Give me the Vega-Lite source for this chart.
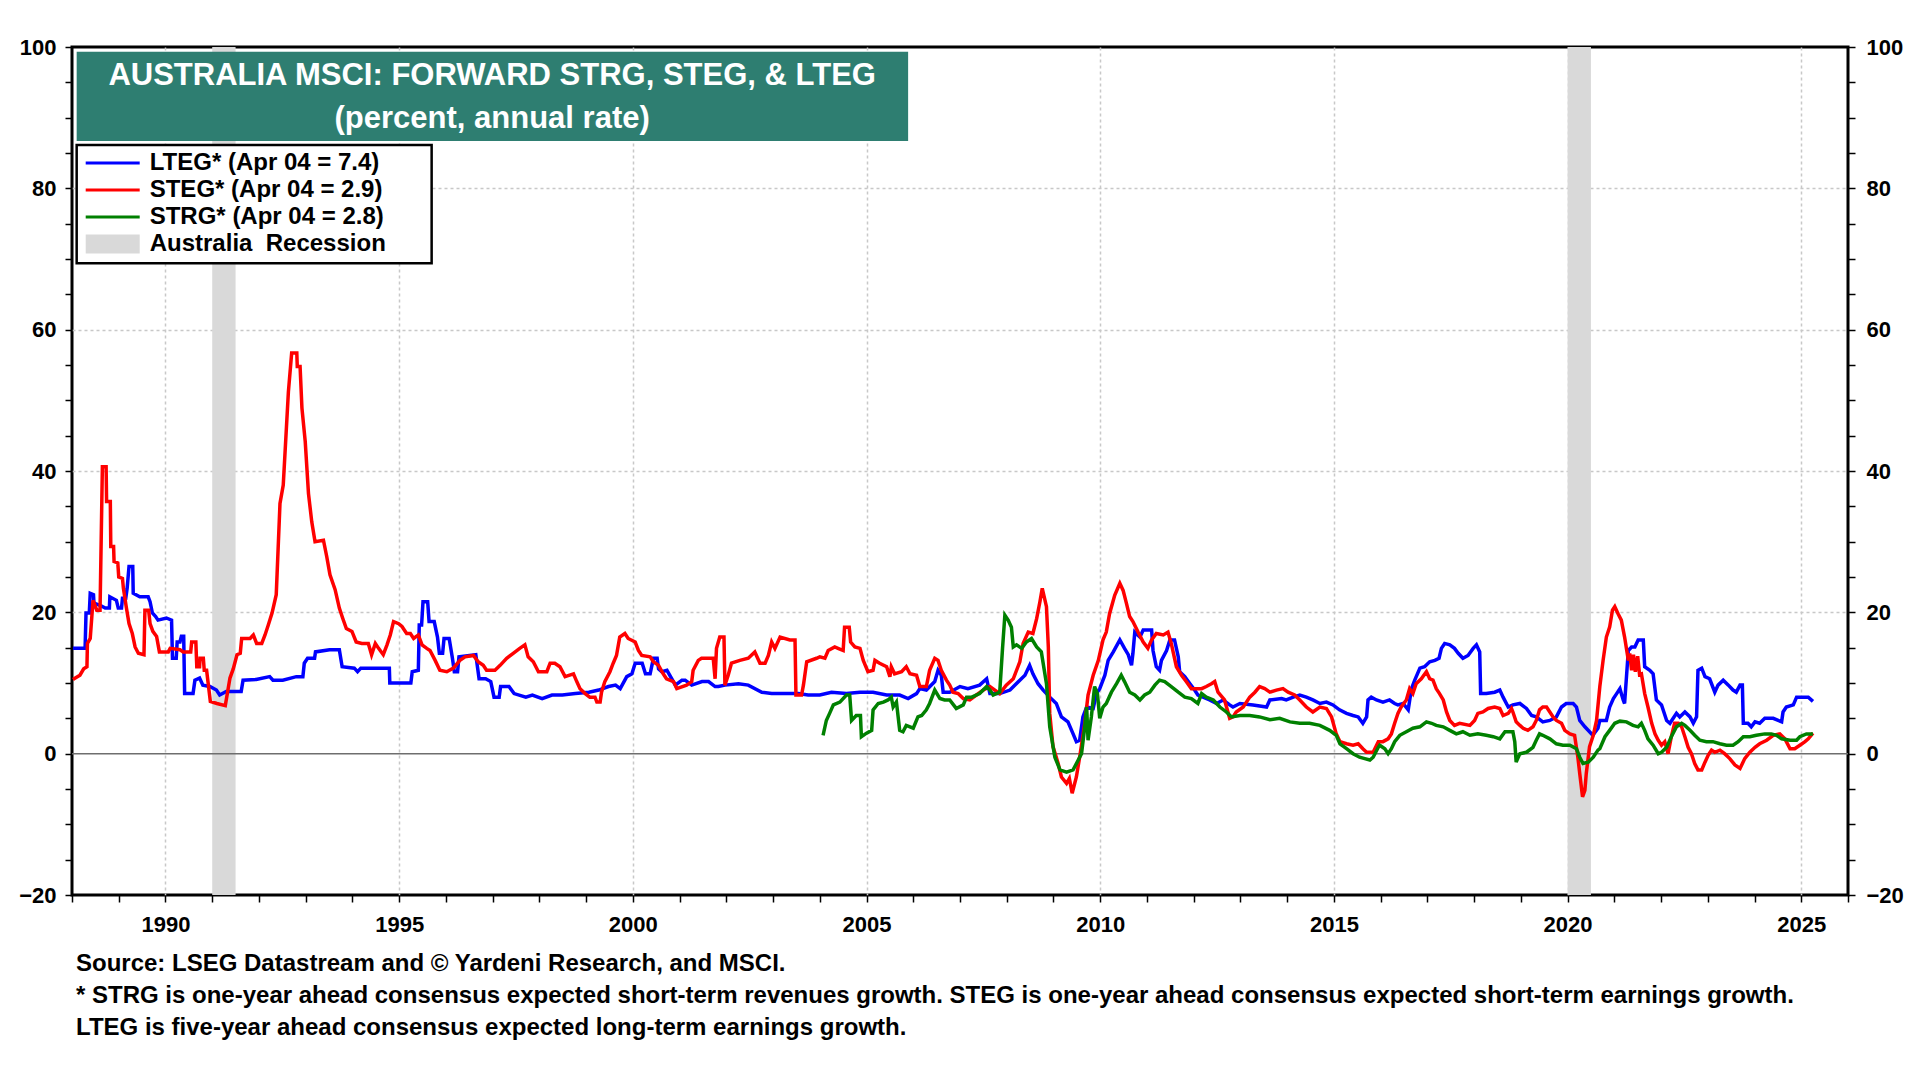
{
  "$schema": "https://vega.github.io/schema/vega-lite/v6.json",
  "width": 1776,
  "height": 848,
  "autosize": {"type": "none"},
  "padding": {"left": 72, "top": 47, "right": 72, "bottom": 185},
  "background": "white",
  "title": {
    "text": ["Source: LSEG Datastream and © Yardeni Research, and MSCI.", "* STRG is one-year ahead consensus expected short-term revenues growth. STEG is one-year ahead consensus expected short-term earnings growth.", "LTEG is five-year ahead consensus expected long-term earnings growth."],
    "orient": "bottom", "anchor": "start", "frame": "group",
    "font": "Liberation Sans", "fontSize": 24, "fontWeight": "bold", "color": "black",
    "lineHeight": 32, "offset": 17, "dx": 4
  },
  "config": {
    "view": {"stroke": "black", "strokeWidth": 3},
    "axis": {
      "labelFont": "Liberation Sans", "labelFontSize": 22, "labelFontWeight": "bold", "labelColor": "black",
      "tickColor": "black", "tickWidth": 1.5, "tickSize": 7, "domain": false, "title": null
    }
  },
  "resolve": {"axis": {"x": "independent", "y": "independent"}},
  "layer": [
    {
      "data": {"values": [{"a": 1991.0, "b": 1991.5}, {"a": 2020.0, "b": 2020.5}]},
      "mark": {"type": "rect", "color": "#D9D9D9"},
      "encoding": {
        "x": {"field": "a", "type": "quantitative", "scale": {"domain": [1988, 2026], "nice": false, "zero": false}, "axis": null},
        "x2": {"field": "b"}
      }
    },
    {
      "data": {"values": [{"v": 0}]},
      "mark": {"type": "rule", "color": "#6e6e6e", "strokeWidth": 1.5},
      "encoding": {
        "y": {"field": "v", "type": "quantitative", "scale": {"domain": [-20, 100], "nice": false, "zero": false},
          "axis": {"orient": "right", "values": [-20,-15,-10,-5,0,5,10,15,20,25,30,35,40,45,50,55,60,65,70,75,80,85,90,95,100],
            "labelExpr": "datum.value % 20 === 0 ? datum.label : ''", "labelPadding": 11, "grid": false}}
      }
    },
    {
      "data": {"name": "series"},
      "mark": {"type": "line", "strokeWidth": 3.5, "clip": true},
      "encoding": {
        "x": {"field": "t", "type": "quantitative",
          "axis": {"orient": "bottom", "values": [1988,1989,1990,1991,1992,1993,1994,1995,1996,1997,1998,1999,2000,2001,2002,2003,2004,2005,2006,2007,2008,2009,2010,2011,2012,2013,2014,2015,2016,2017,2018,2019,2020,2021,2022,2023,2024,2025,2026],
            "format": "d", "labelExpr": "datum.value % 5 === 0 ? datum.label : ''", "labelPadding": 12,
            "grid": true, "gridColor": "#c8c8c8", "gridDash": [3, 3], "gridWidth": 1.5,
            "gridOpacity": {"condition": {"test": "datum.value % 5 !== 0 || datum.value === 1988 || datum.value === 2026", "value": 0}, "value": 1}}},
        "y": {"field": "v", "type": "quantitative",
          "axis": {"orient": "left", "values": [-20,-15,-10,-5,0,5,10,15,20,25,30,35,40,45,50,55,60,65,70,75,80,85,90,95,100],
            "labelExpr": "datum.value % 20 === 0 ? datum.label : ''", "labelPadding": 9,
            "grid": true, "gridColor": "#c8c8c8", "gridDash": [3, 3], "gridWidth": 1.5,
            "gridOpacity": {"condition": {"test": "datum.value % 20 !== 0 || datum.value <= 0 || datum.value >= 100", "value": 0}, "value": 1}}},
        "color": {"field": "s", "type": "nominal",
          "scale": {"domain": ["L", "S", "R", "X"], "range": ["#0000FF", "#FF0000", "#008000", "#D9D9D9"]},
          "legend": {
            "orient": "none", "legendX": 4.7, "legendY": 98, "title": null,
            "labelExpr": "datum.value === 'L' ? 'LTEG* (Apr 04 = 7.4)' : datum.value === 'S' ? 'STEG* (Apr 04 = 2.9)' : datum.value === 'R' ? 'STRG* (Apr 04 = 2.8)' : 'Australia\u00a0 Recession'",
            "symbolType": "M-2.25,-0.125L2.25,-0.125L2.25,0.125L-2.25,0.125Z", "symbolSize": 576, "symbolStrokeWidth": 0,
            "symbolOffset": 18, "labelOffset": 25, "labelLimit": 500,
            "labelFont": "Liberation Sans", "labelFontSize": 24, "labelFontWeight": "bold", "labelColor": "black",
            "rowPadding": 3, "padding": 6,
            "encode": {
              "symbols": {"update": {
                "shape": {"signal": "datum.value === 'X' ? 'M-2.25,-0.79L2.25,-0.79L2.25,0.79L-2.25,0.79Z' : 'M-2.25,-0.125L2.25,-0.125L2.25,0.125L-2.25,0.125Z'"},
                "fill": {"scale": "color", "field": "value"},
                "fillOpacity": {"value": 1},
                "strokeWidth": {"value": 0}
              }}
            }
          }
        }
      }
    },
    {
      "data": {"values": [{"txt": "AUSTRALIA MSCI: FORWARD STRG, STEG, & LTEG\n(percent, annual rate)"}]},
      "layer": [
        {
          "mark": {"type": "rect", "color": "#2E7E71"},
          "encoding": {
            "x": {"datum": 1988.1, "type": "quantitative", "axis": null},
            "x2": {"datum": 2005.89},
            "y": {"datum": 99.33, "type": "quantitative", "axis": null},
            "y2": {"datum": 86.7}
          }
        },
        {
          "mark": {"type": "text", "color": "white", "font": "Liberation Sans", "fontSize": 31, "fontWeight": "bold", "lineBreak": "\n", "lineHeight": 42.3, "align": "center", "baseline": "middle"},
          "encoding": {
            "x": {"datum": 1996.99, "type": "quantitative", "axis": null},
            "y": {"datum": 95.85, "type": "quantitative", "axis": null},
            "text": {"field": "txt"}
          }
        },
        {
          "mark": {"type": "rect", "fill": "white", "stroke": "black", "strokeWidth": 2.5},
          "encoding": {
            "x": {"datum": 1988.1, "type": "quantitative", "axis": null},
            "x2": {"datum": 1995.695},
            "y": {"datum": 86.13, "type": "quantitative", "axis": null},
            "y2": {"datum": 69.39}
          }
        }
      ]
    }
  ],
  "datasets": {
    "series": [
      {"s":"L","t":1988.02,"v":14.9},{"s":"L","t":1988.28,"v":14.9},{"s":"L","t":1988.3,"v":19.9},{"s":"L","t":1988.37,"v":19.9},{"s":"L","t":1988.39,"v":22.7},{"s":"L","t":1988.46,"v":22.5},{"s":"L","t":1988.47,"v":21.3},{"s":"L","t":1988.6,"v":21.0},{"s":"L","t":1988.71,"v":20.6},{"s":"L","t":1988.8,"v":20.6},{"s":"L","t":1988.81,"v":22.2},{"s":"L","t":1988.95,"v":21.7},{"s":"L","t":1988.99,"v":20.6},{"s":"L","t":1989.06,"v":20.6},{"s":"L","t":1989.08,"v":22.0},{"s":"L","t":1989.15,"v":22.0},{"s":"L","t":1989.18,"v":23.4},{"s":"L","t":1989.22,"v":26.5},{"s":"L","t":1989.3,"v":26.5},{"s":"L","t":1989.31,"v":22.7},{"s":"L","t":1989.45,"v":22.2},{"s":"L","t":1989.63,"v":22.2},{"s":"L","t":1989.67,"v":21.5},{"s":"L","t":1989.72,"v":19.9},{"s":"L","t":1989.79,"v":19.4},{"s":"L","t":1989.84,"v":18.9},{"s":"L","t":1990.02,"v":19.2},{"s":"L","t":1990.13,"v":18.9},{"s":"L","t":1990.15,"v":13.5},{"s":"L","t":1990.23,"v":13.5},{"s":"L","t":1990.25,"v":15.8},{"s":"L","t":1990.31,"v":15.8},{"s":"L","t":1990.34,"v":16.6},{"s":"L","t":1990.39,"v":16.6},{"s":"L","t":1990.41,"v":8.5},{"s":"L","t":1990.59,"v":8.5},{"s":"L","t":1990.63,"v":10.4},{"s":"L","t":1990.73,"v":10.7},{"s":"L","t":1990.8,"v":9.7},{"s":"L","t":1990.95,"v":9.5},{"s":"L","t":1991.09,"v":9.0},{"s":"L","t":1991.16,"v":8.3},{"s":"L","t":1991.3,"v":8.8},{"s":"L","t":1991.62,"v":8.8},{"s":"L","t":1991.66,"v":10.4},{"s":"L","t":1991.94,"v":10.5},{"s":"L","t":1992.23,"v":10.9},{"s":"L","t":1992.3,"v":10.4},{"s":"L","t":1992.51,"v":10.4},{"s":"L","t":1992.8,"v":10.9},{"s":"L","t":1992.94,"v":10.9},{"s":"L","t":1992.97,"v":12.8},{"s":"L","t":1993.04,"v":13.5},{"s":"L","t":1993.19,"v":13.5},{"s":"L","t":1993.21,"v":14.4},{"s":"L","t":1993.51,"v":14.7},{"s":"L","t":1993.72,"v":14.7},{"s":"L","t":1993.78,"v":12.3},{"s":"L","t":1994.04,"v":12.1},{"s":"L","t":1994.11,"v":11.6},{"s":"L","t":1994.18,"v":12.1},{"s":"L","t":1994.79,"v":12.1},{"s":"L","t":1994.8,"v":10.0},{"s":"L","t":1995.25,"v":10.0},{"s":"L","t":1995.28,"v":11.6},{"s":"L","t":1995.41,"v":11.8},{"s":"L","t":1995.43,"v":18.2},{"s":"L","t":1995.48,"v":18.2},{"s":"L","t":1995.51,"v":21.5},{"s":"L","t":1995.61,"v":21.5},{"s":"L","t":1995.64,"v":18.7},{"s":"L","t":1995.75,"v":18.7},{"s":"L","t":1995.82,"v":16.5},{"s":"L","t":1995.86,"v":14.2},{"s":"L","t":1995.93,"v":14.2},{"s":"L","t":1995.96,"v":16.3},{"s":"L","t":1996.07,"v":16.3},{"s":"L","t":1996.14,"v":13.5},{"s":"L","t":1996.18,"v":11.6},{"s":"L","t":1996.25,"v":11.6},{"s":"L","t":1996.28,"v":13.7},{"s":"L","t":1996.64,"v":14.0},{"s":"L","t":1996.71,"v":10.6},{"s":"L","t":1996.85,"v":10.6},{"s":"L","t":1996.96,"v":10.2},{"s":"L","t":1997.03,"v":8.0},{"s":"L","t":1997.14,"v":8.0},{"s":"L","t":1997.17,"v":9.5},{"s":"L","t":1997.35,"v":9.5},{"s":"L","t":1997.46,"v":8.5},{"s":"L","t":1997.71,"v":8.0},{"s":"L","t":1997.85,"v":8.3},{"s":"L","t":1998.06,"v":7.8},{"s":"L","t":1998.27,"v":8.3},{"s":"L","t":1998.49,"v":8.3},{"s":"L","t":1998.77,"v":8.5},{"s":"L","t":1999.06,"v":8.7},{"s":"L","t":1999.27,"v":9.0},{"s":"L","t":1999.48,"v":9.5},{"s":"L","t":1999.63,"v":9.7},{"s":"L","t":1999.73,"v":9.2},{"s":"L","t":1999.87,"v":10.9},{"s":"L","t":1999.98,"v":11.3},{"s":"L","t":2000.05,"v":12.8},{"s":"L","t":2000.2,"v":12.8},{"s":"L","t":2000.27,"v":11.3},{"s":"L","t":2000.37,"v":11.3},{"s":"L","t":2000.44,"v":13.5},{"s":"L","t":2000.52,"v":13.5},{"s":"L","t":2000.55,"v":12.0},{"s":"L","t":2000.62,"v":11.6},{"s":"L","t":2000.73,"v":11.8},{"s":"L","t":2000.91,"v":9.7},{"s":"L","t":2001.05,"v":10.4},{"s":"L","t":2001.12,"v":10.4},{"s":"L","t":2001.26,"v":9.7},{"s":"L","t":2001.48,"v":10.2},{"s":"L","t":2001.62,"v":10.2},{"s":"L","t":2001.76,"v":9.5},{"s":"L","t":2001.83,"v":9.5},{"s":"L","t":2001.97,"v":9.7},{"s":"L","t":2002.26,"v":9.9},{"s":"L","t":2002.47,"v":9.7},{"s":"L","t":2002.76,"v":8.7},{"s":"L","t":2002.97,"v":8.5},{"s":"L","t":2003.54,"v":8.5},{"s":"L","t":2003.75,"v":8.3},{"s":"L","t":2004.0,"v":8.3},{"s":"L","t":2004.25,"v":8.7},{"s":"L","t":2004.57,"v":8.5},{"s":"L","t":2004.86,"v":8.7},{"s":"L","t":2005.14,"v":8.7},{"s":"L","t":2005.43,"v":8.3},{"s":"L","t":2005.71,"v":8.3},{"s":"L","t":2005.89,"v":7.8},{"s":"L","t":2006.07,"v":8.5},{"s":"L","t":2006.14,"v":9.2},{"s":"L","t":2006.28,"v":9.0},{"s":"L","t":2006.46,"v":10.2},{"s":"L","t":2006.53,"v":11.8},{"s":"L","t":2006.6,"v":11.1},{"s":"L","t":2006.64,"v":8.7},{"s":"L","t":2006.78,"v":8.7},{"s":"L","t":2007.0,"v":9.5},{"s":"L","t":2007.17,"v":9.2},{"s":"L","t":2007.42,"v":9.7},{"s":"L","t":2007.57,"v":10.6},{"s":"L","t":2007.64,"v":8.5},{"s":"L","t":2007.85,"v":8.5},{"s":"L","t":2008.07,"v":9.0},{"s":"L","t":2008.28,"v":10.4},{"s":"L","t":2008.39,"v":11.1},{"s":"L","t":2008.49,"v":12.5},{"s":"L","t":2008.56,"v":11.3},{"s":"L","t":2008.67,"v":9.9},{"s":"L","t":2008.78,"v":9.0},{"s":"L","t":2008.92,"v":8.0},{"s":"L","t":2009.06,"v":7.1},{"s":"L","t":2009.17,"v":5.2},{"s":"L","t":2009.31,"v":4.5},{"s":"L","t":2009.42,"v":2.8},{"s":"L","t":2009.49,"v":1.7},{"s":"L","t":2009.56,"v":1.9},{"s":"L","t":2009.63,"v":5.2},{"s":"L","t":2009.71,"v":6.6},{"s":"L","t":2009.85,"v":6.4},{"s":"L","t":2009.92,"v":8.5},{"s":"L","t":2009.99,"v":9.2},{"s":"L","t":2010.1,"v":11.1},{"s":"L","t":2010.17,"v":13.2},{"s":"L","t":2010.28,"v":14.4},{"s":"L","t":2010.42,"v":16.1},{"s":"L","t":2010.52,"v":14.9},{"s":"L","t":2010.6,"v":14.0},{"s":"L","t":2010.67,"v":12.5},{"s":"L","t":2010.7,"v":14.2},{"s":"L","t":2010.74,"v":17.2},{"s":"L","t":2010.85,"v":16.5},{"s":"L","t":2010.92,"v":17.5},{"s":"L","t":2011.1,"v":17.5},{"s":"L","t":2011.13,"v":14.6},{"s":"L","t":2011.2,"v":12.3},{"s":"L","t":2011.27,"v":11.8},{"s":"L","t":2011.31,"v":13.2},{"s":"L","t":2011.42,"v":14.6},{"s":"L","t":2011.49,"v":16.1},{"s":"L","t":2011.59,"v":16.1},{"s":"L","t":2011.67,"v":13.7},{"s":"L","t":2011.7,"v":11.6},{"s":"L","t":2011.81,"v":10.9},{"s":"L","t":2011.92,"v":9.9},{"s":"L","t":2012.02,"v":9.0},{"s":"L","t":2012.09,"v":8.3},{"s":"L","t":2012.2,"v":8.0},{"s":"L","t":2012.34,"v":7.6},{"s":"L","t":2012.49,"v":7.1},{"s":"L","t":2012.63,"v":7.6},{"s":"L","t":2012.77,"v":6.9},{"s":"L","t":2012.84,"v":6.6},{"s":"L","t":2012.99,"v":7.1},{"s":"L","t":2013.27,"v":6.9},{"s":"L","t":2013.56,"v":6.6},{"s":"L","t":2013.63,"v":7.6},{"s":"L","t":2013.88,"v":7.8},{"s":"L","t":2013.98,"v":7.6},{"s":"L","t":2014.13,"v":8.0},{"s":"L","t":2014.27,"v":8.3},{"s":"L","t":2014.41,"v":8.0},{"s":"L","t":2014.55,"v":7.6},{"s":"L","t":2014.7,"v":7.1},{"s":"L","t":2014.84,"v":7.3},{"s":"L","t":2014.98,"v":6.9},{"s":"L","t":2015.12,"v":6.2},{"s":"L","t":2015.27,"v":5.7},{"s":"L","t":2015.41,"v":5.4},{"s":"L","t":2015.52,"v":5.2},{"s":"L","t":2015.62,"v":4.3},{"s":"L","t":2015.7,"v":5.2},{"s":"L","t":2015.73,"v":7.6},{"s":"L","t":2015.8,"v":8.0},{"s":"L","t":2015.91,"v":7.6},{"s":"L","t":2016.05,"v":7.3},{"s":"L","t":2016.19,"v":7.6},{"s":"L","t":2016.3,"v":7.1},{"s":"L","t":2016.37,"v":6.9},{"s":"L","t":2016.48,"v":7.1},{"s":"L","t":2016.59,"v":6.2},{"s":"L","t":2016.66,"v":9.2},{"s":"L","t":2016.73,"v":10.4},{"s":"L","t":2016.84,"v":12.1},{"s":"L","t":2016.94,"v":12.3},{"s":"L","t":2017.05,"v":13.0},{"s":"L","t":2017.16,"v":13.2},{"s":"L","t":2017.25,"v":13.5},{"s":"L","t":2017.3,"v":14.9},{"s":"L","t":2017.37,"v":15.6},{"s":"L","t":2017.48,"v":15.4},{"s":"L","t":2017.58,"v":14.9},{"s":"L","t":2017.66,"v":14.2},{"s":"L","t":2017.76,"v":13.5},{"s":"L","t":2017.87,"v":13.9},{"s":"L","t":2017.98,"v":14.9},{"s":"L","t":2018.05,"v":15.4},{"s":"L","t":2018.12,"v":14.4},{"s":"L","t":2018.14,"v":8.5},{"s":"L","t":2018.26,"v":8.5},{"s":"L","t":2018.44,"v":8.7},{"s":"L","t":2018.55,"v":9.0},{"s":"L","t":2018.62,"v":8.0},{"s":"L","t":2018.73,"v":6.6},{"s":"L","t":2018.83,"v":6.9},{"s":"L","t":2018.98,"v":7.1},{"s":"L","t":2019.12,"v":6.4},{"s":"L","t":2019.23,"v":5.4},{"s":"L","t":2019.33,"v":5.2},{"s":"L","t":2019.47,"v":4.5},{"s":"L","t":2019.62,"v":4.7},{"s":"L","t":2019.76,"v":5.2},{"s":"L","t":2019.87,"v":6.6},{"s":"L","t":2019.97,"v":7.1},{"s":"L","t":2020.12,"v":7.1},{"s":"L","t":2020.19,"v":6.6},{"s":"L","t":2020.26,"v":4.7},{"s":"L","t":2020.37,"v":3.8},{"s":"L","t":2020.47,"v":3.1},{"s":"L","t":2020.54,"v":2.6},{"s":"L","t":2020.65,"v":3.6},{"s":"L","t":2020.69,"v":4.7},{"s":"L","t":2020.83,"v":4.7},{"s":"L","t":2020.9,"v":6.6},{"s":"L","t":2020.98,"v":7.8},{"s":"L","t":2021.05,"v":8.5},{"s":"L","t":2021.12,"v":9.2},{"s":"L","t":2021.19,"v":7.6},{"s":"L","t":2021.22,"v":7.1},{"s":"L","t":2021.3,"v":14.6},{"s":"L","t":2021.37,"v":15.1},{"s":"L","t":2021.44,"v":15.1},{"s":"L","t":2021.51,"v":16.1},{"s":"L","t":2021.62,"v":16.1},{"s":"L","t":2021.65,"v":12.3},{"s":"L","t":2021.76,"v":11.8},{"s":"L","t":2021.83,"v":11.3},{"s":"L","t":2021.9,"v":7.6},{"s":"L","t":2022.01,"v":6.9},{"s":"L","t":2022.12,"v":4.7},{"s":"L","t":2022.19,"v":4.3},{"s":"L","t":2022.26,"v":5.0},{"s":"L","t":2022.33,"v":5.7},{"s":"L","t":2022.4,"v":5.2},{"s":"L","t":2022.51,"v":5.9},{"s":"L","t":2022.62,"v":5.2},{"s":"L","t":2022.69,"v":4.3},{"s":"L","t":2022.76,"v":5.2},{"s":"L","t":2022.79,"v":11.8},{"s":"L","t":2022.87,"v":12.1},{"s":"L","t":2022.94,"v":10.9},{"s":"L","t":2023.04,"v":10.6},{"s":"L","t":2023.15,"v":8.7},{"s":"L","t":2023.22,"v":9.7},{"s":"L","t":2023.33,"v":10.4},{"s":"L","t":2023.44,"v":9.7},{"s":"L","t":2023.54,"v":9.0},{"s":"L","t":2023.61,"v":8.7},{"s":"L","t":2023.69,"v":9.7},{"s":"L","t":2023.74,"v":9.7},{"s":"L","t":2023.76,"v":4.3},{"s":"L","t":2023.86,"v":4.3},{"s":"L","t":2023.93,"v":3.8},{"s":"L","t":2024.01,"v":4.5},{"s":"L","t":2024.11,"v":4.3},{"s":"L","t":2024.22,"v":5.0},{"s":"L","t":2024.4,"v":5.0},{"s":"L","t":2024.58,"v":4.5},{"s":"L","t":2024.61,"v":5.9},{"s":"L","t":2024.68,"v":6.6},{"s":"L","t":2024.83,"v":6.9},{"s":"L","t":2024.9,"v":8.0},{"s":"L","t":2025.15,"v":8.0},{"s":"L","t":2025.25,"v":7.4},
      {"s":"S","t":1988.02,"v":10.5},{"s":"S","t":1988.07,"v":10.7},{"s":"S","t":1988.17,"v":11.1},{"s":"S","t":1988.25,"v":12.0},{"s":"S","t":1988.32,"v":12.3},{"s":"S","t":1988.33,"v":15.6},{"s":"S","t":1988.39,"v":16.3},{"s":"S","t":1988.45,"v":21.7},{"s":"S","t":1988.53,"v":20.3},{"s":"S","t":1988.6,"v":20.3},{"s":"S","t":1988.65,"v":40.6},{"s":"S","t":1988.73,"v":40.6},{"s":"S","t":1988.74,"v":35.7},{"s":"S","t":1988.82,"v":35.7},{"s":"S","t":1988.83,"v":29.3},{"s":"S","t":1988.89,"v":29.3},{"s":"S","t":1988.9,"v":27.2},{"s":"S","t":1988.98,"v":27.0},{"s":"S","t":1989.0,"v":25.0},{"s":"S","t":1989.08,"v":24.8},{"s":"S","t":1989.1,"v":23.4},{"s":"S","t":1989.16,"v":20.8},{"s":"S","t":1989.22,"v":18.4},{"s":"S","t":1989.29,"v":17.0},{"s":"S","t":1989.35,"v":15.1},{"s":"S","t":1989.42,"v":14.2},{"s":"S","t":1989.54,"v":14.0},{"s":"S","t":1989.56,"v":20.3},{"s":"S","t":1989.64,"v":20.3},{"s":"S","t":1989.67,"v":18.4},{"s":"S","t":1989.73,"v":17.3},{"s":"S","t":1989.81,"v":16.6},{"s":"S","t":1989.87,"v":14.4},{"s":"S","t":1990.06,"v":14.4},{"s":"S","t":1990.1,"v":14.9},{"s":"S","t":1990.31,"v":14.7},{"s":"S","t":1990.38,"v":14.4},{"s":"S","t":1990.54,"v":14.4},{"s":"S","t":1990.56,"v":15.8},{"s":"S","t":1990.65,"v":15.8},{"s":"S","t":1990.67,"v":12.3},{"s":"S","t":1990.73,"v":12.3},{"s":"S","t":1990.74,"v":13.5},{"s":"S","t":1990.81,"v":13.5},{"s":"S","t":1990.83,"v":11.8},{"s":"S","t":1990.88,"v":11.8},{"s":"S","t":1990.96,"v":7.4},{"s":"S","t":1991.1,"v":7.1},{"s":"S","t":1991.28,"v":6.8},{"s":"S","t":1991.38,"v":10.7},{"s":"S","t":1991.45,"v":12.0},{"s":"S","t":1991.53,"v":14.0},{"s":"S","t":1991.6,"v":14.2},{"s":"S","t":1991.63,"v":16.3},{"s":"S","t":1991.81,"v":16.3},{"s":"S","t":1991.88,"v":16.8},{"s":"S","t":1991.95,"v":15.6},{"s":"S","t":1992.06,"v":15.6},{"s":"S","t":1992.13,"v":16.8},{"s":"S","t":1992.2,"v":18.2},{"s":"S","t":1992.28,"v":19.9},{"s":"S","t":1992.37,"v":22.5},{"s":"S","t":1992.45,"v":35.4},{"s":"S","t":1992.52,"v":38.0},{"s":"S","t":1992.63,"v":51.2},{"s":"S","t":1992.7,"v":56.7},{"s":"S","t":1992.81,"v":56.7},{"s":"S","t":1992.82,"v":54.8},{"s":"S","t":1992.88,"v":54.8},{"s":"S","t":1992.92,"v":48.9},{"s":"S","t":1992.99,"v":44.2},{"s":"S","t":1993.06,"v":36.8},{"s":"S","t":1993.13,"v":32.8},{"s":"S","t":1993.2,"v":30.0},{"s":"S","t":1993.38,"v":30.2},{"s":"S","t":1993.45,"v":27.9},{"s":"S","t":1993.52,"v":25.3},{"s":"S","t":1993.63,"v":23.2},{"s":"S","t":1993.72,"v":20.6},{"s":"S","t":1993.79,"v":19.2},{"s":"S","t":1993.87,"v":17.7},{"s":"S","t":1993.99,"v":17.3},{"s":"S","t":1994.08,"v":15.8},{"s":"S","t":1994.2,"v":15.6},{"s":"S","t":1994.34,"v":15.6},{"s":"S","t":1994.41,"v":14.0},{"s":"S","t":1994.49,"v":15.6},{"s":"S","t":1994.56,"v":14.9},{"s":"S","t":1994.66,"v":14.0},{"s":"S","t":1994.74,"v":15.4},{"s":"S","t":1994.81,"v":16.8},{"s":"S","t":1994.88,"v":18.7},{"s":"S","t":1994.99,"v":18.4},{"s":"S","t":1995.06,"v":18.0},{"s":"S","t":1995.16,"v":17.0},{"s":"S","t":1995.24,"v":17.0},{"s":"S","t":1995.31,"v":16.3},{"s":"S","t":1995.41,"v":16.8},{"s":"S","t":1995.49,"v":15.4},{"s":"S","t":1995.59,"v":14.9},{"s":"S","t":1995.66,"v":14.6},{"s":"S","t":1995.77,"v":13.2},{"s":"S","t":1995.87,"v":11.8},{"s":"S","t":1996.02,"v":11.6},{"s":"S","t":1996.16,"v":12.1},{"s":"S","t":1996.3,"v":13.2},{"s":"S","t":1996.41,"v":13.7},{"s":"S","t":1996.59,"v":13.9},{"s":"S","t":1996.69,"v":13.0},{"s":"S","t":1996.8,"v":12.5},{"s":"S","t":1996.87,"v":11.8},{"s":"S","t":1997.05,"v":11.8},{"s":"S","t":1997.16,"v":12.5},{"s":"S","t":1997.3,"v":13.5},{"s":"S","t":1997.44,"v":14.2},{"s":"S","t":1997.58,"v":14.9},{"s":"S","t":1997.69,"v":15.4},{"s":"S","t":1997.76,"v":13.7},{"s":"S","t":1997.87,"v":13.0},{"s":"S","t":1997.98,"v":11.6},{"s":"S","t":1998.16,"v":11.6},{"s":"S","t":1998.23,"v":12.8},{"s":"S","t":1998.33,"v":12.8},{"s":"S","t":1998.44,"v":12.3},{"s":"S","t":1998.55,"v":10.9},{"s":"S","t":1998.73,"v":11.3},{"s":"S","t":1998.8,"v":10.2},{"s":"S","t":1998.87,"v":9.2},{"s":"S","t":1998.98,"v":8.5},{"s":"S","t":1999.08,"v":8.0},{"s":"S","t":1999.19,"v":8.0},{"s":"S","t":1999.23,"v":7.3},{"s":"S","t":1999.3,"v":7.3},{"s":"S","t":1999.33,"v":8.7},{"s":"S","t":1999.4,"v":10.2},{"s":"S","t":1999.51,"v":11.6},{"s":"S","t":1999.58,"v":12.8},{"s":"S","t":1999.65,"v":13.9},{"s":"S","t":1999.72,"v":16.5},{"s":"S","t":1999.83,"v":17.0},{"s":"S","t":1999.9,"v":16.3},{"s":"S","t":2000.05,"v":15.8},{"s":"S","t":2000.12,"v":14.6},{"s":"S","t":2000.19,"v":13.9},{"s":"S","t":2000.37,"v":13.7},{"s":"S","t":2000.44,"v":13.0},{"s":"S","t":2000.55,"v":12.5},{"s":"S","t":2000.65,"v":11.3},{"s":"S","t":2000.72,"v":10.6},{"s":"S","t":2000.87,"v":10.2},{"s":"S","t":2000.94,"v":9.2},{"s":"S","t":2001.15,"v":9.7},{"s":"S","t":2001.26,"v":10.2},{"s":"S","t":2001.29,"v":11.8},{"s":"S","t":2001.4,"v":13.2},{"s":"S","t":2001.47,"v":13.5},{"s":"S","t":2001.72,"v":13.5},{"s":"S","t":2001.76,"v":10.6},{"s":"S","t":2001.79,"v":14.9},{"s":"S","t":2001.86,"v":16.5},{"s":"S","t":2001.95,"v":16.5},{"s":"S","t":2001.97,"v":9.7},{"s":"S","t":2002.04,"v":11.1},{"s":"S","t":2002.11,"v":12.8},{"s":"S","t":2002.29,"v":13.2},{"s":"S","t":2002.47,"v":13.5},{"s":"S","t":2002.61,"v":14.4},{"s":"S","t":2002.72,"v":12.8},{"s":"S","t":2002.83,"v":12.8},{"s":"S","t":2002.9,"v":13.9},{"s":"S","t":2002.97,"v":15.8},{"s":"S","t":2003.04,"v":14.9},{"s":"S","t":2003.15,"v":16.5},{"s":"S","t":2003.36,"v":16.1},{"s":"S","t":2003.47,"v":16.1},{"s":"S","t":2003.49,"v":8.3},{"s":"S","t":2003.61,"v":8.3},{"s":"S","t":2003.65,"v":9.7},{"s":"S","t":2003.72,"v":13.0},{"s":"S","t":2003.93,"v":13.5},{"s":"S","t":2004.0,"v":13.7},{"s":"S","t":2004.11,"v":13.5},{"s":"S","t":2004.18,"v":14.6},{"s":"S","t":2004.32,"v":15.1},{"s":"S","t":2004.39,"v":14.9},{"s":"S","t":2004.5,"v":14.6},{"s":"S","t":2004.53,"v":17.9},{"s":"S","t":2004.63,"v":17.9},{"s":"S","t":2004.66,"v":15.8},{"s":"S","t":2004.75,"v":15.1},{"s":"S","t":2004.86,"v":14.9},{"s":"S","t":2004.93,"v":13.2},{"s":"S","t":2005.03,"v":11.6},{"s":"S","t":2005.14,"v":11.8},{"s":"S","t":2005.18,"v":13.2},{"s":"S","t":2005.28,"v":12.8},{"s":"S","t":2005.43,"v":12.3},{"s":"S","t":2005.5,"v":10.9},{"s":"S","t":2005.53,"v":12.3},{"s":"S","t":2005.6,"v":11.3},{"s":"S","t":2005.75,"v":11.6},{"s":"S","t":2005.85,"v":12.3},{"s":"S","t":2005.93,"v":11.3},{"s":"S","t":2006.07,"v":11.1},{"s":"S","t":2006.14,"v":9.5},{"s":"S","t":2006.28,"v":9.5},{"s":"S","t":2006.35,"v":11.8},{"s":"S","t":2006.46,"v":13.5},{"s":"S","t":2006.53,"v":13.2},{"s":"S","t":2006.6,"v":11.8},{"s":"S","t":2006.71,"v":10.4},{"s":"S","t":2006.78,"v":9.7},{"s":"S","t":2006.85,"v":8.7},{"s":"S","t":2006.96,"v":8.5},{"s":"S","t":2007.07,"v":7.8},{"s":"S","t":2007.21,"v":7.6},{"s":"S","t":2007.35,"v":8.3},{"s":"S","t":2007.5,"v":9.0},{"s":"S","t":2007.64,"v":9.5},{"s":"S","t":2007.85,"v":8.5},{"s":"S","t":2007.99,"v":9.7},{"s":"S","t":2008.14,"v":10.6},{"s":"S","t":2008.28,"v":13.0},{"s":"S","t":2008.35,"v":15.6},{"s":"S","t":2008.46,"v":17.2},{"s":"S","t":2008.56,"v":17.0},{"s":"S","t":2008.64,"v":19.1},{"s":"S","t":2008.71,"v":21.5},{"s":"S","t":2008.76,"v":23.4},{"s":"S","t":2008.85,"v":20.8},{"s":"S","t":2008.89,"v":15.1},{"s":"S","t":2008.92,"v":5.7},{"s":"S","t":2008.99,"v":1.0},{"s":"S","t":2009.1,"v":-1.4},{"s":"S","t":2009.17,"v":-3.3},{"s":"S","t":2009.28,"v":-4.2},{"s":"S","t":2009.34,"v":-3.5},{"s":"S","t":2009.4,"v":-5.6},{"s":"S","t":2009.49,"v":-3.3},{"s":"S","t":2009.56,"v":-0.5},{"s":"S","t":2009.67,"v":4.3},{"s":"S","t":2009.74,"v":8.3},{"s":"S","t":2009.85,"v":11.1},{"s":"S","t":2009.96,"v":13.2},{"s":"S","t":2010.06,"v":16.1},{"s":"S","t":2010.13,"v":17.2},{"s":"S","t":2010.2,"v":19.8},{"s":"S","t":2010.31,"v":22.4},{"s":"S","t":2010.42,"v":24.1},{"s":"S","t":2010.49,"v":23.1},{"s":"S","t":2010.56,"v":21.3},{"s":"S","t":2010.63,"v":19.4},{"s":"S","t":2010.7,"v":18.7},{"s":"S","t":2010.81,"v":17.2},{"s":"S","t":2010.92,"v":15.8},{"s":"S","t":2011.02,"v":14.9},{"s":"S","t":2011.1,"v":16.1},{"s":"S","t":2011.2,"v":17.0},{"s":"S","t":2011.35,"v":16.8},{"s":"S","t":2011.45,"v":17.2},{"s":"S","t":2011.52,"v":15.6},{"s":"S","t":2011.63,"v":12.3},{"s":"S","t":2011.74,"v":11.1},{"s":"S","t":2011.84,"v":10.2},{"s":"S","t":2011.95,"v":9.2},{"s":"S","t":2012.17,"v":9.2},{"s":"S","t":2012.27,"v":9.5},{"s":"S","t":2012.38,"v":9.9},{"s":"S","t":2012.45,"v":10.2},{"s":"S","t":2012.52,"v":8.7},{"s":"S","t":2012.66,"v":7.6},{"s":"S","t":2012.77,"v":5.0},{"s":"S","t":2012.84,"v":5.2},{"s":"S","t":2012.91,"v":5.9},{"s":"S","t":2013.06,"v":6.6},{"s":"S","t":2013.2,"v":8.0},{"s":"S","t":2013.31,"v":8.7},{"s":"S","t":2013.41,"v":9.5},{"s":"S","t":2013.52,"v":9.2},{"s":"S","t":2013.63,"v":8.7},{"s":"S","t":2013.77,"v":9.0},{"s":"S","t":2013.91,"v":9.2},{"s":"S","t":2014.02,"v":8.7},{"s":"S","t":2014.16,"v":8.3},{"s":"S","t":2014.27,"v":7.6},{"s":"S","t":2014.41,"v":6.6},{"s":"S","t":2014.55,"v":5.9},{"s":"S","t":2014.7,"v":6.6},{"s":"S","t":2014.84,"v":6.4},{"s":"S","t":2014.95,"v":5.2},{"s":"S","t":2015.05,"v":2.8},{"s":"S","t":2015.13,"v":1.7},{"s":"S","t":2015.27,"v":1.4},{"s":"S","t":2015.41,"v":1.2},{"s":"S","t":2015.52,"v":1.4},{"s":"S","t":2015.62,"v":0.7},{"s":"S","t":2015.7,"v":0.2},{"s":"S","t":2015.84,"v":0.2},{"s":"S","t":2015.95,"v":1.7},{"s":"S","t":2016.05,"v":1.7},{"s":"S","t":2016.16,"v":2.1},{"s":"S","t":2016.23,"v":2.8},{"s":"S","t":2016.3,"v":4.3},{"s":"S","t":2016.37,"v":5.7},{"s":"S","t":2016.44,"v":6.6},{"s":"S","t":2016.55,"v":7.6},{"s":"S","t":2016.62,"v":9.2},{"s":"S","t":2016.69,"v":8.5},{"s":"S","t":2016.76,"v":9.9},{"s":"S","t":2016.87,"v":10.6},{"s":"S","t":2016.98,"v":11.6},{"s":"S","t":2017.05,"v":10.6},{"s":"S","t":2017.12,"v":10.4},{"s":"S","t":2017.19,"v":9.2},{"s":"S","t":2017.26,"v":8.5},{"s":"S","t":2017.34,"v":7.6},{"s":"S","t":2017.41,"v":5.9},{"s":"S","t":2017.48,"v":4.7},{"s":"S","t":2017.58,"v":4.0},{"s":"S","t":2017.69,"v":4.3},{"s":"S","t":2017.91,"v":4.0},{"s":"S","t":2018.01,"v":4.7},{"s":"S","t":2018.08,"v":5.7},{"s":"S","t":2018.19,"v":5.9},{"s":"S","t":2018.3,"v":6.4},{"s":"S","t":2018.44,"v":6.6},{"s":"S","t":2018.55,"v":6.4},{"s":"S","t":2018.62,"v":5.4},{"s":"S","t":2018.73,"v":5.7},{"s":"S","t":2018.8,"v":6.4},{"s":"S","t":2018.83,"v":5.9},{"s":"S","t":2018.9,"v":4.5},{"s":"S","t":2018.98,"v":4.0},{"s":"S","t":2019.05,"v":3.6},{"s":"S","t":2019.15,"v":3.3},{"s":"S","t":2019.26,"v":3.8},{"s":"S","t":2019.33,"v":4.7},{"s":"S","t":2019.4,"v":6.2},{"s":"S","t":2019.47,"v":6.6},{"s":"S","t":2019.55,"v":6.6},{"s":"S","t":2019.62,"v":5.9},{"s":"S","t":2019.69,"v":5.2},{"s":"S","t":2019.76,"v":4.7},{"s":"S","t":2019.87,"v":4.3},{"s":"S","t":2019.94,"v":3.3},{"s":"S","t":2020.05,"v":2.8},{"s":"S","t":2020.15,"v":2.6},{"s":"S","t":2020.22,"v":-0.5},{"s":"S","t":2020.26,"v":-2.8},{"s":"S","t":2020.32,"v":-6.1},{"s":"S","t":2020.37,"v":-5.2},{"s":"S","t":2020.4,"v":-2.8},{"s":"S","t":2020.47,"v":1.0},{"s":"S","t":2020.55,"v":2.6},{"s":"S","t":2020.62,"v":4.7},{"s":"S","t":2020.69,"v":9.5},{"s":"S","t":2020.76,"v":13.2},{"s":"S","t":2020.83,"v":16.5},{"s":"S","t":2020.9,"v":17.9},{"s":"S","t":2020.96,"v":20.3},{"s":"S","t":2021.01,"v":20.8},{"s":"S","t":2021.08,"v":19.8},{"s":"S","t":2021.15,"v":18.9},{"s":"S","t":2021.22,"v":16.5},{"s":"S","t":2021.3,"v":13.2},{"s":"S","t":2021.33,"v":14.2},{"s":"S","t":2021.37,"v":11.8},{"s":"S","t":2021.41,"v":14.0},{"s":"S","t":2021.45,"v":11.6},{"s":"S","t":2021.5,"v":13.8},{"s":"S","t":2021.54,"v":11.2},{"s":"S","t":2021.58,"v":11.3},{"s":"S","t":2021.65,"v":8.5},{"s":"S","t":2021.72,"v":6.6},{"s":"S","t":2021.8,"v":4.3},{"s":"S","t":2021.87,"v":2.8},{"s":"S","t":2021.94,"v":1.9},{"s":"S","t":2022.01,"v":1.2},{"s":"S","t":2022.08,"v":1.7},{"s":"S","t":2022.15,"v":0.0},{"s":"S","t":2022.22,"v":2.4},{"s":"S","t":2022.29,"v":4.3},{"s":"S","t":2022.37,"v":4.3},{"s":"S","t":2022.44,"v":3.8},{"s":"S","t":2022.51,"v":2.4},{"s":"S","t":2022.58,"v":0.9},{"s":"S","t":2022.65,"v":0.0},{"s":"S","t":2022.72,"v":-1.4},{"s":"S","t":2022.79,"v":-2.3},{"s":"S","t":2022.87,"v":-2.3},{"s":"S","t":2022.94,"v":-1.2},{"s":"S","t":2023.01,"v":-0.2},{"s":"S","t":2023.08,"v":0.5},{"s":"S","t":2023.15,"v":0.2},{"s":"S","t":2023.26,"v":0.5},{"s":"S","t":2023.36,"v":0.0},{"s":"S","t":2023.47,"v":-0.7},{"s":"S","t":2023.58,"v":-1.6},{"s":"S","t":2023.69,"v":-2.1},{"s":"S","t":2023.79,"v":-0.7},{"s":"S","t":2023.9,"v":0.2},{"s":"S","t":2024.01,"v":0.9},{"s":"S","t":2024.11,"v":1.4},{"s":"S","t":2024.26,"v":1.9},{"s":"S","t":2024.4,"v":2.6},{"s":"S","t":2024.54,"v":2.8},{"s":"S","t":2024.65,"v":2.1},{"s":"S","t":2024.76,"v":0.7},{"s":"S","t":2024.86,"v":0.7},{"s":"S","t":2024.97,"v":1.2},{"s":"S","t":2025.08,"v":1.7},{"s":"S","t":2025.15,"v":2.1},{"s":"S","t":2025.25,"v":2.9},
      {"s":"R","t":2004.07,"v":2.6},{"s":"R","t":2004.14,"v":4.7},{"s":"R","t":2004.21,"v":5.7},{"s":"R","t":2004.29,"v":6.9},{"s":"R","t":2004.43,"v":7.3},{"s":"R","t":2004.57,"v":8.3},{"s":"R","t":2004.64,"v":8.3},{"s":"R","t":2004.68,"v":4.7},{"s":"R","t":2004.78,"v":5.4},{"s":"R","t":2004.87,"v":5.4},{"s":"R","t":2004.89,"v":2.4},{"s":"R","t":2005.0,"v":2.9},{"s":"R","t":2005.11,"v":3.3},{"s":"R","t":2005.14,"v":6.2},{"s":"R","t":2005.25,"v":7.1},{"s":"R","t":2005.36,"v":7.3},{"s":"R","t":2005.46,"v":7.6},{"s":"R","t":2005.53,"v":8.0},{"s":"R","t":2005.57,"v":6.6},{"s":"R","t":2005.64,"v":7.3},{"s":"R","t":2005.71,"v":3.3},{"s":"R","t":2005.78,"v":3.1},{"s":"R","t":2005.85,"v":4.0},{"s":"R","t":2006.0,"v":3.6},{"s":"R","t":2006.1,"v":5.2},{"s":"R","t":2006.18,"v":5.4},{"s":"R","t":2006.28,"v":6.2},{"s":"R","t":2006.35,"v":7.1},{"s":"R","t":2006.46,"v":9.0},{"s":"R","t":2006.57,"v":7.8},{"s":"R","t":2006.67,"v":7.6},{"s":"R","t":2006.78,"v":7.6},{"s":"R","t":2006.92,"v":6.4},{"s":"R","t":2007.07,"v":6.9},{"s":"R","t":2007.14,"v":8.0},{"s":"R","t":2007.25,"v":8.0},{"s":"R","t":2007.42,"v":8.5},{"s":"R","t":2007.57,"v":9.5},{"s":"R","t":2007.64,"v":9.0},{"s":"R","t":2007.71,"v":8.3},{"s":"R","t":2007.85,"v":8.7},{"s":"R","t":2007.91,"v":14.9},{"s":"R","t":2007.96,"v":19.6},{"s":"R","t":2008.03,"v":18.9},{"s":"R","t":2008.1,"v":17.9},{"s":"R","t":2008.14,"v":15.1},{"s":"R","t":2008.21,"v":15.4},{"s":"R","t":2008.32,"v":14.9},{"s":"R","t":2008.42,"v":15.8},{"s":"R","t":2008.53,"v":16.3},{"s":"R","t":2008.64,"v":15.1},{"s":"R","t":2008.74,"v":14.4},{"s":"R","t":2008.85,"v":9.9},{"s":"R","t":2008.92,"v":3.8},{"s":"R","t":2009.03,"v":-0.5},{"s":"R","t":2009.14,"v":-2.3},{"s":"R","t":2009.28,"v":-2.6},{"s":"R","t":2009.42,"v":-2.3},{"s":"R","t":2009.53,"v":-0.9},{"s":"R","t":2009.6,"v":0.0},{"s":"R","t":2009.67,"v":3.8},{"s":"R","t":2009.71,"v":6.6},{"s":"R","t":2009.74,"v":1.9},{"s":"R","t":2009.81,"v":5.2},{"s":"R","t":2009.88,"v":9.5},{"s":"R","t":2009.94,"v":8.5},{"s":"R","t":2009.99,"v":5.0},{"s":"R","t":2010.06,"v":6.6},{"s":"R","t":2010.13,"v":7.1},{"s":"R","t":2010.24,"v":8.7},{"s":"R","t":2010.35,"v":9.9},{"s":"R","t":2010.45,"v":11.1},{"s":"R","t":2010.52,"v":10.2},{"s":"R","t":2010.63,"v":8.7},{"s":"R","t":2010.74,"v":8.3},{"s":"R","t":2010.85,"v":7.6},{"s":"R","t":2010.95,"v":8.3},{"s":"R","t":2011.06,"v":8.7},{"s":"R","t":2011.17,"v":9.7},{"s":"R","t":2011.27,"v":10.4},{"s":"R","t":2011.38,"v":10.2},{"s":"R","t":2011.52,"v":9.5},{"s":"R","t":2011.67,"v":8.7},{"s":"R","t":2011.81,"v":8.0},{"s":"R","t":2011.95,"v":7.8},{"s":"R","t":2012.09,"v":7.1},{"s":"R","t":2012.17,"v":8.5},{"s":"R","t":2012.27,"v":8.0},{"s":"R","t":2012.42,"v":7.6},{"s":"R","t":2012.56,"v":6.6},{"s":"R","t":2012.7,"v":5.9},{"s":"R","t":2012.81,"v":5.2},{"s":"R","t":2012.99,"v":5.4},{"s":"R","t":2013.2,"v":5.4},{"s":"R","t":2013.41,"v":5.2},{"s":"R","t":2013.63,"v":4.8},{"s":"R","t":2013.84,"v":5.0},{"s":"R","t":2014.06,"v":4.5},{"s":"R","t":2014.27,"v":4.3},{"s":"R","t":2014.48,"v":4.3},{"s":"R","t":2014.7,"v":4.0},{"s":"R","t":2014.91,"v":3.3},{"s":"R","t":2015.05,"v":2.6},{"s":"R","t":2015.13,"v":1.4},{"s":"R","t":2015.27,"v":0.7},{"s":"R","t":2015.41,"v":0.0},{"s":"R","t":2015.55,"v":-0.5},{"s":"R","t":2015.66,"v":-0.7},{"s":"R","t":2015.77,"v":-0.9},{"s":"R","t":2015.84,"v":-0.5},{"s":"R","t":2015.95,"v":0.9},{"s":"R","t":2015.98,"v":1.2},{"s":"R","t":2016.09,"v":0.7},{"s":"R","t":2016.16,"v":0.0},{"s":"R","t":2016.23,"v":0.7},{"s":"R","t":2016.3,"v":1.7},{"s":"R","t":2016.41,"v":2.6},{"s":"R","t":2016.55,"v":3.1},{"s":"R","t":2016.69,"v":3.6},{"s":"R","t":2016.84,"v":3.8},{"s":"R","t":2016.98,"v":4.5},{"s":"R","t":2017.09,"v":4.3},{"s":"R","t":2017.19,"v":4.0},{"s":"R","t":2017.34,"v":3.8},{"s":"R","t":2017.48,"v":3.3},{"s":"R","t":2017.62,"v":2.8},{"s":"R","t":2017.76,"v":3.1},{"s":"R","t":2017.91,"v":2.6},{"s":"R","t":2018.08,"v":2.8},{"s":"R","t":2018.26,"v":2.6},{"s":"R","t":2018.41,"v":2.4},{"s":"R","t":2018.55,"v":2.1},{"s":"R","t":2018.66,"v":3.1},{"s":"R","t":2018.83,"v":3.1},{"s":"R","t":2018.87,"v":1.7},{"s":"R","t":2018.9,"v":-1.2},{"s":"R","t":2018.98,"v":0.0},{"s":"R","t":2019.12,"v":0.2},{"s":"R","t":2019.26,"v":0.9},{"s":"R","t":2019.33,"v":1.9},{"s":"R","t":2019.4,"v":2.8},{"s":"R","t":2019.47,"v":2.6},{"s":"R","t":2019.62,"v":2.1},{"s":"R","t":2019.76,"v":1.4},{"s":"R","t":2019.9,"v":1.2},{"s":"R","t":2020.05,"v":1.2},{"s":"R","t":2020.19,"v":0.7},{"s":"R","t":2020.26,"v":-0.5},{"s":"R","t":2020.33,"v":-1.4},{"s":"R","t":2020.44,"v":-1.2},{"s":"R","t":2020.55,"v":-0.5},{"s":"R","t":2020.65,"v":0.5},{"s":"R","t":2020.69,"v":0.7},{"s":"R","t":2020.8,"v":2.4},{"s":"R","t":2020.9,"v":3.3},{"s":"R","t":2021.01,"v":4.3},{"s":"R","t":2021.12,"v":4.6},{"s":"R","t":2021.26,"v":4.5},{"s":"R","t":2021.4,"v":4.0},{"s":"R","t":2021.51,"v":3.8},{"s":"R","t":2021.58,"v":4.3},{"s":"R","t":2021.65,"v":3.3},{"s":"R","t":2021.72,"v":2.1},{"s":"R","t":2021.83,"v":1.2},{"s":"R","t":2021.94,"v":0.0},{"s":"R","t":2022.01,"v":0.2},{"s":"R","t":2022.12,"v":0.9},{"s":"R","t":2022.22,"v":2.4},{"s":"R","t":2022.33,"v":3.8},{"s":"R","t":2022.44,"v":4.3},{"s":"R","t":2022.51,"v":4.0},{"s":"R","t":2022.62,"v":3.3},{"s":"R","t":2022.72,"v":2.6},{"s":"R","t":2022.83,"v":1.9},{"s":"R","t":2022.97,"v":1.7},{"s":"R","t":2023.11,"v":1.7},{"s":"R","t":2023.26,"v":1.4},{"s":"R","t":2023.4,"v":1.2},{"s":"R","t":2023.54,"v":1.2},{"s":"R","t":2023.65,"v":1.7},{"s":"R","t":2023.76,"v":2.4},{"s":"R","t":2023.9,"v":2.4},{"s":"R","t":2024.04,"v":2.6},{"s":"R","t":2024.22,"v":2.8},{"s":"R","t":2024.36,"v":2.8},{"s":"R","t":2024.47,"v":2.6},{"s":"R","t":2024.58,"v":2.1},{"s":"R","t":2024.76,"v":1.9},{"s":"R","t":2024.9,"v":1.9},{"s":"R","t":2024.97,"v":2.4},{"s":"R","t":2025.11,"v":2.8},{"s":"R","t":2025.25,"v":2.8}
    ]
  }
}
